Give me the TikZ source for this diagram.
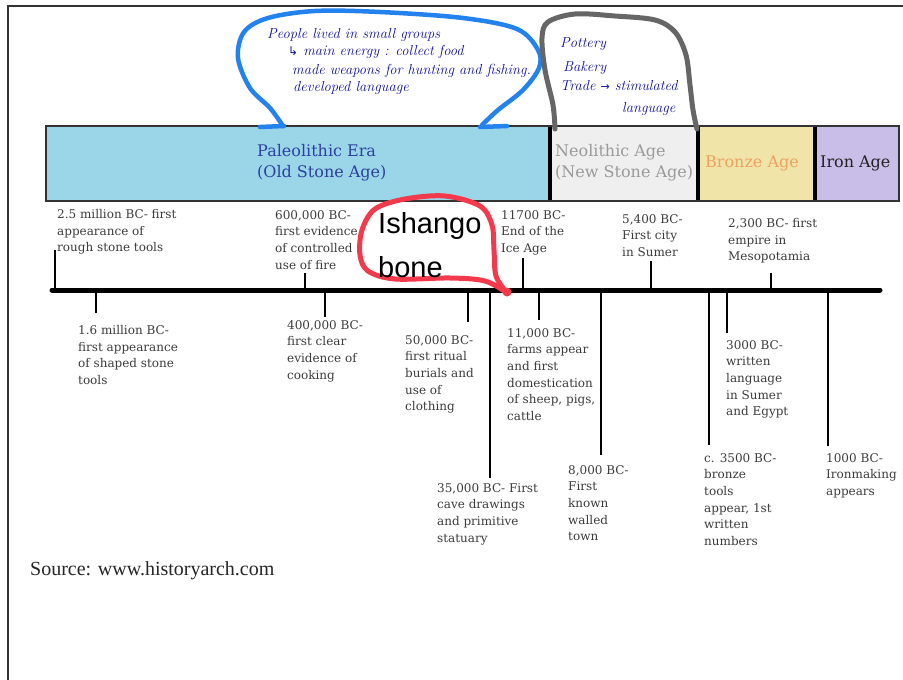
\documentclass[tikz,border=0pt]{standalone}
\usepackage{fontspec}
\newfontfamily\labfont{DejaVu Serif}
\newfontfamily\srcfont{Liberation Serif}
\newfontfamily\armfont{Liberation Sans}
\newfontfamily\symfont{DejaVu Sans}
\definecolor{paleo}{HTML}{9AD6E8}
\definecolor{paleotxt}{HTML}{2E3F9E}
\definecolor{neo}{HTML}{EFEFEF}
\definecolor{neotxt}{HTML}{9A9A9A}
\definecolor{bronze}{HTML}{F1E4A8}
\definecolor{bronzetxt}{HTML}{E9A262}
\definecolor{iron}{HTML}{C8BEE8}
\definecolor{irontxt}{HTML}{222222}
\definecolor{labtxt}{HTML}{3C3C3C}
\definecolor{penblue}{HTML}{2382EE}
\definecolor{inkblue}{HTML}{12129E}
\definecolor{pengray}{HTML}{666666}
\definecolor{penred}{HTML}{F23A4C}
\definecolor{framecol}{HTML}{333333}
\tikzset{
  erabox/.style={draw=framecol, line width=1.5pt, anchor=north west, inner sep=0pt, minimum height=75pt},
  eratxt/.style={font=\labfont\fontsize{16}{21}\selectfont, align=left, inner sep=0pt},
  lab/.style={font=\labfont\fontsize{12}{16.7}\selectfont, text=labtxt, align=left, anchor=north west, inner sep=0pt},
  tickline/.style={line width=2pt, black},
  axisline/.style={line width=5pt, black, line cap=round},
  sepline/.style={line width=4pt, black},
  hand/.style={font=\itshape\fontsize{14.5}{18}\selectfont, text=inkblue, anchor=base west, inner sep=0pt},
  pen/.style={line width=4.5pt, line cap=round, line join=round},
}
\begin{document}
\begin{tikzpicture}[x=1pt,y=-1pt]
\useasboundingbox[fill=white] (0,0) rectangle (903,680);
% frame
\draw[framecol, line width=1.2pt] (8,680) -- (8,6) -- (903,6);
% era bar
\node[erabox, fill=paleo, minimum width=505pt] (paleoBox) at (45,125) {};
\node[erabox, fill=neo, minimum width=148pt] (neoBox) at (550,125) {};
\node[erabox, fill=bronze, minimum width=117pt] (bronzeBox) at (698,125) {};
\node[erabox, fill=iron, minimum width=83pt] (ironBox) at (815,125) {};
\draw[sepline] ([yshift=-2pt]neoBox.north west) -- ([yshift=2pt]neoBox.south west);
\draw[sepline] ([yshift=-2pt]bronzeBox.north west) -- ([yshift=2pt]bronzeBox.south west);
\draw[sepline] ([yshift=-2pt]ironBox.north west) -- ([yshift=2pt]ironBox.south west);
\node[eratxt, text=paleotxt, anchor=north west] (paleoTxt) at (257,144) {Paleolithic Era\\(Old Stone Age)};
\node[eratxt, text=neotxt, anchor=north west] (neoTxt) at (555,144) {Neolithic Age\\(New Stone Age)};
\node[eratxt, text=bronzetxt, anchor=base west] (bronzeTxt) at (705,167) {Bronze Age};
\node[eratxt, text=irontxt, anchor=base west] (ironTxt) at (820,167) {Iron Age};
% timeline axis
\coordinate (axL) at (52,290);
\coordinate (axR) at (880,290);
% upper ticks
\coordinate (u1a) at (55,290);  \coordinate (u1b) at (55,250);
\coordinate (u2a) at (305,290); \coordinate (u2b) at (305,273);
\coordinate (u3a) at (523,290); \coordinate (u3b) at (523,258);
\coordinate (u4a) at (651,290); \coordinate (u4b) at (651,261);
\coordinate (u5a) at (771,290); \coordinate (u5b) at (771,273);
% lower ticks
\coordinate (d1a) at (96,290);  \coordinate (d1b) at (96,313);
\coordinate (d2a) at (325,290); \coordinate (d2b) at (325,317);
\coordinate (d3a) at (468,290); \coordinate (d3b) at (468,322);
\coordinate (d4a) at (490,290); \coordinate (d4b) at (490,478);
\coordinate (d5a) at (539,290); \coordinate (d5b) at (539,320);
\coordinate (d6a) at (601,290); \coordinate (d6b) at (601,455);
\coordinate (d7a) at (709,290); \coordinate (d7b) at (709,445);
\coordinate (d8a) at (727,290); \coordinate (d8b) at (727,333);
\coordinate (d9a) at (828,290); \coordinate (d9b) at (828,446);
\foreach \t in {u1,u2,u3,u4,u5,d1,d2,d3,d4,d5,d6,d7,d8,d9}
  \draw[tickline] (\t a) -- (\t b);
\draw[axisline] (axL) -- (axR);
% labels above
\node[lab] (l25) at (57,209) {2.5 million BC- first\\appearance of\\rough stone tools};
\node[lab] (l600) at (275,210) {600,000 BC-\\first evidence\\of controlled\\use of fire};
\node[lab] (l11700) at (501,210) {11700 BC-\\End of the\\Ice Age};
\node[lab] (l5400) at (622,214) {5,400 BC-\\First city\\in Sumer};
\node[lab] (l2300) at (728,218) {2,300 BC- first\\empire in\\Mesopotamia};
% labels below
\node[lab] (l16) at (78,325) {1.6 million BC-\\first appearance\\of shaped stone\\tools};
\node[lab] (l400) at (287,320) {400,000 BC-\\first clear\\evidence of\\cooking};
\node[lab] (l50) at (405,335) {50,000 BC-\\first ritual\\burials and\\use of\\clothing};
\node[lab] (l11000) at (507,328) {11,000 BC-\\farms appear\\and first\\domestication\\of sheep, pigs,\\cattle};
\node[lab] (l35) at (437,483) {35,000 BC- First\\cave drawings\\and primitive\\statuary};
\node[lab] (l8000) at (568,465) {8,000 BC-\\First\\known\\walled\\town};
\node[lab] (l3500) at (704,453) {c. 3500 BC-\\bronze\\tools\\appear, 1st\\written\\numbers};
\node[lab] (l3000) at (726,340) {3000 BC-\\written\\language\\in Sumer\\and Egypt};
\node[lab] (l1000) at (826,453) {1000 BC-\\Ironmaking\\appears};
% source
\node[anchor=base west, inner sep=0pt, font=\srcfont\fontsize{20}{24}\selectfont, text=black!85] (src) at (30,575) {Source: www.historyarch.com};
% blue annotation
\draw[pen, penblue] plot[smooth, tension=0.55] coordinates {(283,126) (270,108) (250,88) (238,58) (244,32) (268,18) (315,11) (380,12) (463,18) (517,29) (538,50) (539,68) (523,90) (498,110) (482,125)};
\draw[pen, penblue] (260,127) -- (284,126);
\draw[pen, penblue] (480,127) -- (507,126);
\node[hand] (h1) at (267,38) {People lived in small groups};
\node[hand] (h2) at (288,56) {{\symfont\fontsize{12}{14}\selectfont ↳} main energy : collect food};
\node[hand] (h3) at (292,74) {made weapons for hunting and fishing.};
\node[hand] (h4) at (293,91) {developed language};
% gray annotation
\draw[pen, pengray, line width=5pt] plot[smooth, tension=0.55] coordinates {(555,129) (553,105) (545,70) (542,38) (548,22) (575,14) (615,16) (655,20) (675,32) (686,55) (690,85) (693,110) (697,129)};
\node[hand] (g1) at (560,47) {Pottery};
\node[hand] (g2) at (563,71) {Bakery};
\node[hand] (g3) at (560,90) {Trade {\symfont\fontsize{11}{14}\selectfont →} stimulated};
\node[hand] (g4) at (622,112) {language};
% red annotation
\draw[pen, penred, line width=5pt] plot[smooth, tension=0.55] coordinates {(507,293) (496,276) (494,250) (492,225) (480,206) (445,196) (405,199) (375,209) (362,230) (360,255) (368,271) (395,279) (450,278) (485,281) (507,293)};
\fill[penred] (507,292) circle (4.5pt);
\node[anchor=base west, inner sep=0pt, font=\armfont\fontsize{29}{34}\selectfont] (ish1) at (378,233) {Ishango};
\node[anchor=base west, inner sep=0pt, font=\armfont\fontsize{29}{34}\selectfont] (ish2) at (378,277) {bone};
\end{tikzpicture}
\end{document}
